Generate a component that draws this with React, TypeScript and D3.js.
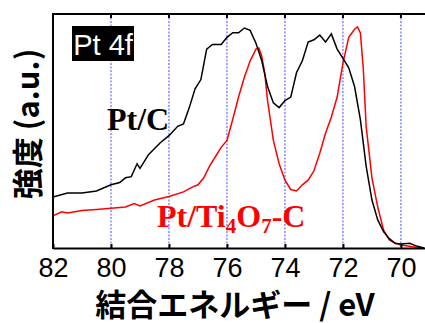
import * as d3 from "d3";
import { useRef, useEffect } from "react";

// binding energy (eV) and intensity (a.u., 0-100)
const ptcEnergy = [82, 81.5, 81, 80.5, 80, 79.7, 79.5, 79.3, 79.1, 79.0, 78.7, 78.3, 78, 77.7, 77.5, 77.3, 77.1, 76.9, 76.7, 76.5, 76.2, 76, 75.8, 75.6, 75.4, 75.2, 75.0, 74.8, 74.6, 74.4, 74.2, 74.0, 73.8, 73.6, 73.4, 73.2, 73.0, 72.8, 72.6, 72.4, 72.2, 72.0, 71.8, 71.6, 71.4, 71.2, 71.0, 70.8, 70.6, 70.4, 70.2, 70.0, 69.7, 69.5, 69.2];
const ptcIntensity = [21.8, 23.5, 23.5, 24.4, 27, 28, 30, 30.5, 36, 34, 40, 45, 48, 52, 53, 60, 68, 72, 85, 87, 87, 90, 92, 92, 94, 93, 87.5, 80, 69, 62, 60, 63, 64.5, 75, 80, 88, 89, 91, 88, 91.5, 85, 81, 77, 69, 55, 35, 20.5, 12, 7, 4, 2, 1.7, 2, 1, 0];

const ptTiEnergy = [82, 81.7, 81.5, 81, 80.5, 80, 79.5, 79.2, 79.0, 78.5, 78.0, 77.5, 77.2, 77.0, 76.8, 76.6, 76.4, 76.2, 76.0, 75.8, 75.6, 75.4, 75.2, 75.0, 74.9, 74.8, 74.7, 74.6, 74.4, 74.2, 74.0, 73.8, 73.6, 73.4, 73.2, 73.0, 72.8, 72.6, 72.4, 72.2, 72.0, 71.8, 71.6, 71.5, 71.4, 71.3, 71.2, 71.0, 70.8, 70.6, 70.4, 70.2, 70.0, 69.6, 69.2];
const ptTiIntensity = [13.7, 15.5, 15, 16, 16.5, 17, 17.5, 19, 18, 20.5, 22, 24, 26, 27, 30, 35, 39, 43, 46, 55, 64.5, 73, 80, 85, 85.5, 82, 75, 63, 46, 36, 29, 25, 24.4, 27, 29, 33, 40.5, 49, 56, 64.5, 79, 90, 93.5, 94.5, 92, 77, 52, 30, 17.5, 7.7, 3.4, 2, 1.3, 0.5, 0];

const xTicks = [82, 80, 78, 76, 74, 72, 70];

export default function App() {
    const svgRef = useRef<SVGSVGElement>(null);

    useEffect(() => {
        const svg = d3.select(svgRef.current);
        svg.selectAll("*").remove();

        const left = 53, right = 425, top = 14, bottom = 248;

        const x = d3.scaleLinear().domain([82, 69.17]).range([left, right]);
        const y = d3.scaleLinear().domain([0, 100]).range([bottom, bottom - 234]);

        // blue dotted grid lines
        svg.append("g").selectAll("line").data(xTicks.slice(1)).enter().append("line")
            .attr("x1", d => x(d)).attr("x2", d => x(d)).attr("y1", top).attr("y2", bottom)
            .attr("stroke", "#4a4aff").attr("stroke-width", 1).attr("stroke-dasharray", "2,1.5");

        const line = d3.line<number>().x(d => x(d[0])).y(d => y(d[1]));

        svg.append("path").datum(d3.zip(ptTiEnergy, ptTiIntensity) as any).attr("d", line as any)
            .attr("fill", "none").attr("stroke", "#ff0000").attr("stroke-width", 1.5);
        svg.append("path").datum(d3.zip(ptcEnergy, ptcIntensity) as any).attr("d", line as any)
            .attr("fill", "none").attr("stroke", "#000").attr("stroke-width", 1.5);

        // frame: left, top
        svg.append("line").attr("x1", left).attr("x2", left).attr("y1", top - 1).attr("y2", bottom + 1).attr("stroke", "#000").attr("stroke-width", 2);
        svg.append("line").attr("x1", left).attr("x2", right).attr("y1", top).attr("y2", top).attr("stroke", "#000").attr("stroke-width", 2);

        // bottom axis with ticks pointing inward
        const xAxis = svg.append("g").attr("transform", `translate(0,${bottom})`)
            .call(d3.axisBottom(x).tickValues(xTicks).tickSizeInner(-4).tickSizeOuter(0).tickPadding(10));
        xAxis.select(".domain").attr("stroke-width", 2);
        xAxis.selectAll("line").attr("stroke-width", 2);
        xAxis.selectAll("text").style("font-family", "'Liberation Sans', Arial, sans-serif").style("font-size", "27px").attr("fill", "#000");

        // top ticks
        svg.append("g").selectAll("line").data(xTicks.slice(1)).enter().append("line")
            .attr("x1", d => x(d)).attr("x2", d => x(d)).attr("y1", top).attr("y2", top + 4)
            .attr("stroke", "#000").attr("stroke-width", 2);

        // Pt 4f badge
        svg.append("rect").attr("x", 72).attr("y", 26).attr("width", 62).attr("height", 35).attr("fill", "#000");
        svg.append("text").attr("x", 103).attr("y", 55).attr("text-anchor", "middle").attr("fill", "#fff")
            .style("font-family", "'Liberation Sans', Arial, sans-serif").style("font-size", "29px").text("Pt 4f");

        // series labels
        svg.append("text").attr("x", 107).attr("y", 130).attr("fill", "#000")
            .style("font-family", "'Liberation Serif', 'Times New Roman', serif").style("font-weight", "bold").style("font-size", "32px").text("Pt/C");

        const red = svg.append("text").attr("x", 157).attr("y", 227).attr("fill", "#ff0000")
            .style("font-family", "'Liberation Serif', 'Times New Roman', serif").style("font-weight", "bold").style("font-size", "32px");
        red.append("tspan").text("Pt/Ti");
        red.append("tspan").attr("dy", 6).style("font-size", "21px").text("4");
        red.append("tspan").attr("dy", -6).text("O");
        red.append("tspan").attr("dy", 6).style("font-size", "21px").text("7");
        red.append("tspan").attr("dy", -6).text("-C");

        // axis titles
        svg.append("text").attr("transform", "translate(39,124) rotate(-90)").attr("text-anchor", "middle").attr("fill", "#000")
            .style("font-family", "'Noto Sans CJK JP', 'Liberation Sans', sans-serif").style("font-weight", "bold").style("font-size", "31px").text("強度 (a.u.)");
        svg.append("text").attr("x", 235).attr("y", 316).attr("text-anchor", "middle").attr("fill", "#000")
            .style("font-family", "'Noto Sans CJK JP', 'Liberation Sans', sans-serif").style("font-weight", "bold").style("font-size", "31px").text("結合エネルギー / eV");
    }, []);

    return (
        <svg ref={svgRef} width={425} height={323} style={{ position: "absolute", left: 0, top: 0, background: "#fff" }} />
    );
}
